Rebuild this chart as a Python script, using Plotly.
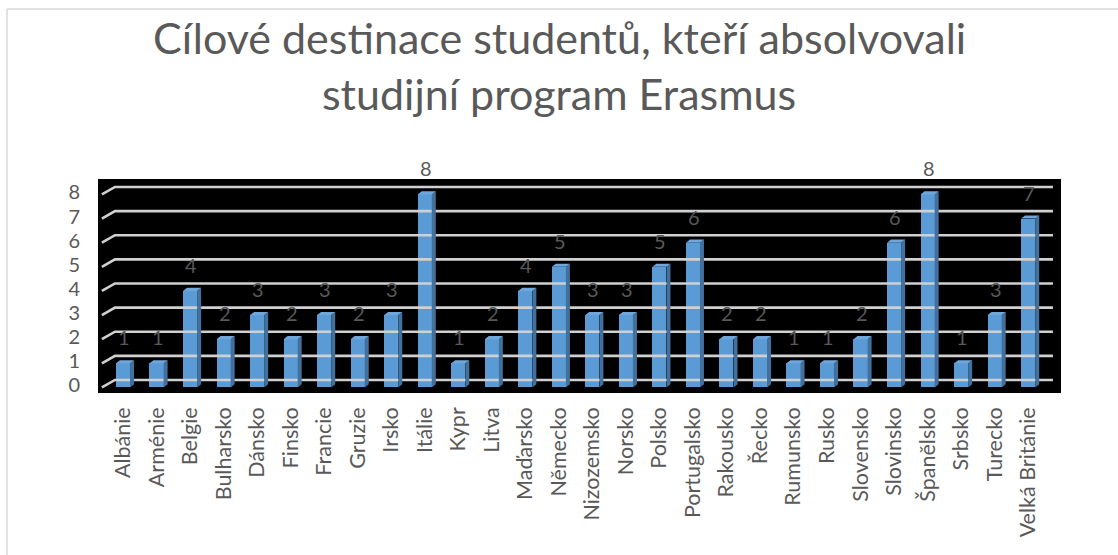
import plotly.graph_objects as go
import numpy as np

categories = ["Albánie", "Arménie", "Belgie", "Bulharsko", "Dánsko", "Finsko", "Francie",
              "Gruzie", "Irsko", "Itálie", "Kypr", "Litva", "Maďarsko", "Německo",
              "Nizozemsko", "Norsko", "Polsko", "Portugalsko", "Rakousko", "Řecko",
              "Rumunsko", "Rusko", "Slovensko", "Slovinsko", "Španělsko", "Srbsko",
              "Turecko", "Velká Británie"]
values = [1, 1, 4, 2, 3, 2, 3, 2, 3, 8, 1, 2, 4, 5, 3, 3, 5, 6, 2, 2, 1, 1, 2, 6, 8, 1, 3, 7]
y_ticks = [0, 1, 2, 3, 4, 5, 6, 7, 8]
title_lines = ["Cílové destinace studentů, kteří absolvovali", "studijní program Erasmus"]

W, H = 1118, 555
FONT = "Lato"
GRAY = "#595959"

x = np.arange(len(categories))
bw = 0.42        # bar width (category units)
ddx = 0.12       # bar depth, x
ddy = 0.13       # bar depth, y
wall_dx_front = -0.63
wall_dx_back = -0.24
wall_end = 27.74
wall_dy = 0.31

fig = go.Figure()

# gridlines on back wall with 3D stub
gx, gy = [], []
for v in y_ticks:
    gx += [wall_dx_front, wall_dx_back, wall_end, None]
    gy += [v, v + wall_dy, v + wall_dy, None]
fig.add_trace(go.Scatter(x=gx, y=gy, mode="lines",
                         line=dict(color="#D0D0D0", width=2.6),
                         hoverinfo="skip", showlegend=False))

# side and top faces
sx, sy = [], []
tx, ty = [], []
for xi, v in zip(x, values):
    r = xi + bw / 2
    l = xi - bw / 2
    sx += [r, r, r + ddx, r + ddx, r, None]
    sy += [0, v, v + ddy, ddy, 0, None]
    tx += [l, r, r + ddx, l + ddx, l, None]
    ty += [v, v, v + ddy, v + ddy, v, None]
fig.add_trace(go.Scatter(x=sx, y=sy, mode="lines", fill="toself",
                         fillcolor="#41719C", line=dict(width=0, color="#41719C"),
                         hoverinfo="skip", showlegend=False))
fig.add_trace(go.Scatter(x=tx, y=ty, mode="lines", fill="toself",
                         fillcolor="#6FA6DC", line=dict(width=0, color="#6FA6DC"),
                         hoverinfo="skip", showlegend=False))

fig.add_trace(go.Bar(x=x, y=values, width=bw, marker=dict(color="#5B9BD5", line=dict(width=0)),
                     showlegend=False, hovertemplate="%{customdata}: %{y}<extra></extra>",
                     customdata=categories))

annotations = []
for xi, v in zip(x, values):
    annotations.append(dict(x=xi + 0.03, y=v, xref="x", yref="y", text=str(v),
                            showarrow=False, yshift=26,
                            font=dict(family=FONT, size=20, color=GRAY)))

L, T, R, B = 98, 179, 57, 162
ph = H - T - B
pw = W - L - R


def py2paper(py):
    return (H - B - py) / ph


def px2paper(px):
    return (px - L) / pw


ann_center = px2paper(W / 2)
annotations.append(dict(x=ann_center, xref="paper", y=py2paper(37), yref="paper",
                        xanchor="center", yanchor="middle", showarrow=False,
                        text=title_lines[0], font=dict(family=FONT, size=43, color=GRAY)))
annotations.append(dict(x=ann_center, xref="paper", y=py2paper(94), yref="paper",
                        xanchor="center", yanchor="middle", showarrow=False,
                        text=title_lines[1], font=dict(family=FONT, size=43, color=GRAY)))

shapes = [
    dict(type="line", xref="paper", yref="paper", x0=px2paper(7), x1=px2paper(1120),
         y0=py2paper(9), y1=py2paper(9), line=dict(color="#D9D9D9", width=1.5)),
    dict(type="line", xref="paper", yref="paper", x0=px2paper(7), x1=px2paper(7),
         y0=py2paper(9), y1=py2paper(560), line=dict(color="#D9D9D9", width=1.5)),
]

fig.update_layout(
    width=W, height=H,
    margin=dict(l=L, r=R, t=T, b=B, pad=0),
    paper_bgcolor="white", plot_bgcolor="black",
    bargap=0,
    annotations=annotations,
    shapes=shapes,
    xaxis=dict(range=[-0.746, 27.98], tickmode="array", tickvals=list(x), ticktext=categories,
               tickangle=-90, showgrid=False, zeroline=False, showline=False,
               ticks="", ticklabelstandoff=9, automargin=False,
               tickfont=dict(family=FONT, size=21.5, color=GRAY)),
    yaxis=dict(range=[-0.23, 8.64], tickmode="array", tickvals=y_ticks,
               ticktext=[str(v) for v in y_ticks],
               showgrid=False, zeroline=False, showline=False, ticks="",
               ticklabelstandoff=17, ticklabelshift=-2, automargin=False,
               tickfont=dict(family=FONT, size=20, color=GRAY)),
)

fig.write_html("out.html", config={"displayModeBar": False},
               post_script="document.body.style.margin='0px';")
